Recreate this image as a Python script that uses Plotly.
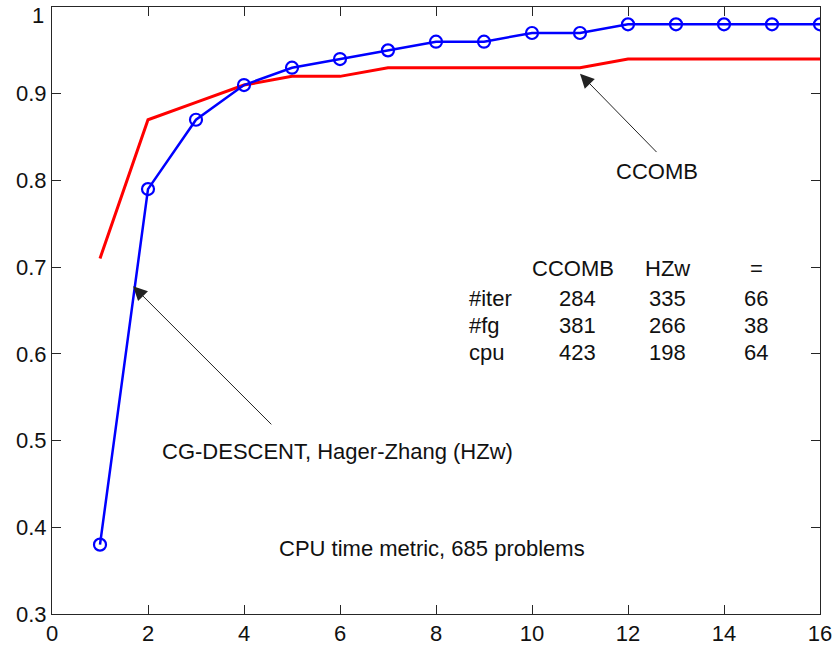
import plotly.graph_objects as go

x_vals = list(range(1, 17))
hzw = [0.38, 0.79, 0.87, 0.91, 0.93, 0.94, 0.95, 0.96, 0.96, 0.97, 0.97, 0.98, 0.98, 0.98, 0.98, 0.98]
ccomb = [0.71, 0.87, 0.89, 0.91, 0.92, 0.92, 0.93, 0.93, 0.93, 0.93, 0.93, 0.94, 0.94, 0.94, 0.94, 0.94]

y_ticks = [0.3, 0.4, 0.5, 0.6, 0.7, 0.8, 0.9, 1.0]
y_ticktext = ["0.3", "0.4", "0.5", "0.6", "0.7", "0.8", "0.9", ""]
top_tick_label = "1"

table_header = ["CCOMB", "HZw", "="]
row_labels = ["#iter", "#fg", "cpu"]
ccomb_counts = [284, 381, 423]
hzw_counts = [335, 266, 198]
equal_counts = [66, 38, 64]

FONT = "Liberation Sans, Arial, sans-serif"
FS = 22
TXT = "#111111"

fig = go.Figure()
fig.add_trace(go.Scatter(x=x_vals, y=ccomb, mode="lines",
                         line=dict(color="#ff0000", width=3), showlegend=False))
fig.add_trace(go.Scatter(x=x_vals, y=hzw, mode="lines+markers",
                         line=dict(color="#0000ff", width=2.5),
                         marker=dict(symbol="circle-open", size=12, color="#0000ff",
                                     line=dict(width=2.2, color="#0000ff")),
                         showlegend=False))

ann = []
# arrows
ann.append(dict(x=11.0, y=0.923, ax=12.625, ay=0.831, xref="x", yref="y", axref="x", ayref="y",
                showarrow=True, arrowhead=2, arrowsize=2.8, arrowwidth=1, arrowcolor="#222222", text=""))
ann.append(dict(x=1.69, y=0.678, ax=4.6, ay=0.517, xref="x", yref="y", axref="x", ayref="y",
                showarrow=True, arrowhead=2, arrowsize=2.8, arrowwidth=1, arrowcolor="#222222", text=""))
ann.append(dict(x=12.6, y=0.81, text="CCOMB", showarrow=False, xref="x", yref="y",
                font=dict(family=FONT, size=FS, color=TXT)))
ann.append(dict(x=5.94, y=0.487, text="CG-DESCENT, Hager-Zhang (HZw)", showarrow=False,
                xref="x", yref="y", font=dict(family=FONT, size=FS, color=TXT)))
ann.append(dict(x=7.92, y=0.375, text="CPU time metric, 685 problems", showarrow=False,
                xref="x", yref="y", font=dict(family=FONT, size=FS, color=TXT)))
# top y tick label, kept inside the page
ann.append(dict(x=0, y=1, xref="paper", yref="paper", xanchor="right", yanchor="top",
                xshift=-6, yshift=6, text=top_tick_label, showarrow=False,
                font=dict(family=FONT, size=FS, color=TXT)))

col_x = [10.85, 12.83, 14.67]
header_y = 0.698
row_y = [0.664, 0.633, 0.601]
for cx, h in zip(col_x, table_header):
    ann.append(dict(x=cx, y=header_y, text=h, showarrow=False, xref="x", yref="y",
                    font=dict(family=FONT, size=FS, color=TXT)))
for ry, lab, a, b, c in zip(row_y, row_labels, ccomb_counts, hzw_counts, equal_counts):
    ann.append(dict(x=8.65, y=ry, text=lab, showarrow=False, xref="x", yref="y", xanchor="left",
                    font=dict(family=FONT, size=FS, color=TXT)))
    for cx, v in zip(col_x, (a, b, c)):
        ann.append(dict(x=cx + (0.1 if cx == col_x[0] else 0), y=ry, text=str(v), showarrow=False,
                        xref="x", yref="y", font=dict(family=FONT, size=FS, color=TXT)))

axis_common = dict(showgrid=False, zeroline=False, showline=True, linecolor="#262626", linewidth=1,
                   mirror="allticks", ticks="inside", ticklen=9, tickcolor="#262626", tickwidth=1,
                   ticklabeloverflow="allow", automargin=False,
                   tickfont=dict(family=FONT, size=FS, color=TXT))

fig.update_layout(
    width=835, height=652,
    margin=dict(l=52, r=15, t=7, b=38),
    paper_bgcolor="white", plot_bgcolor="white",
    xaxis=dict(range=[0, 16], tickmode="array", tickvals=list(range(0, 17, 2)), **axis_common),
    yaxis=dict(range=[0.3, 1.0], tickmode="array", tickvals=y_ticks, ticktext=y_ticktext, **axis_common),
    annotations=ann,
)

fig.write_html("out.html")
